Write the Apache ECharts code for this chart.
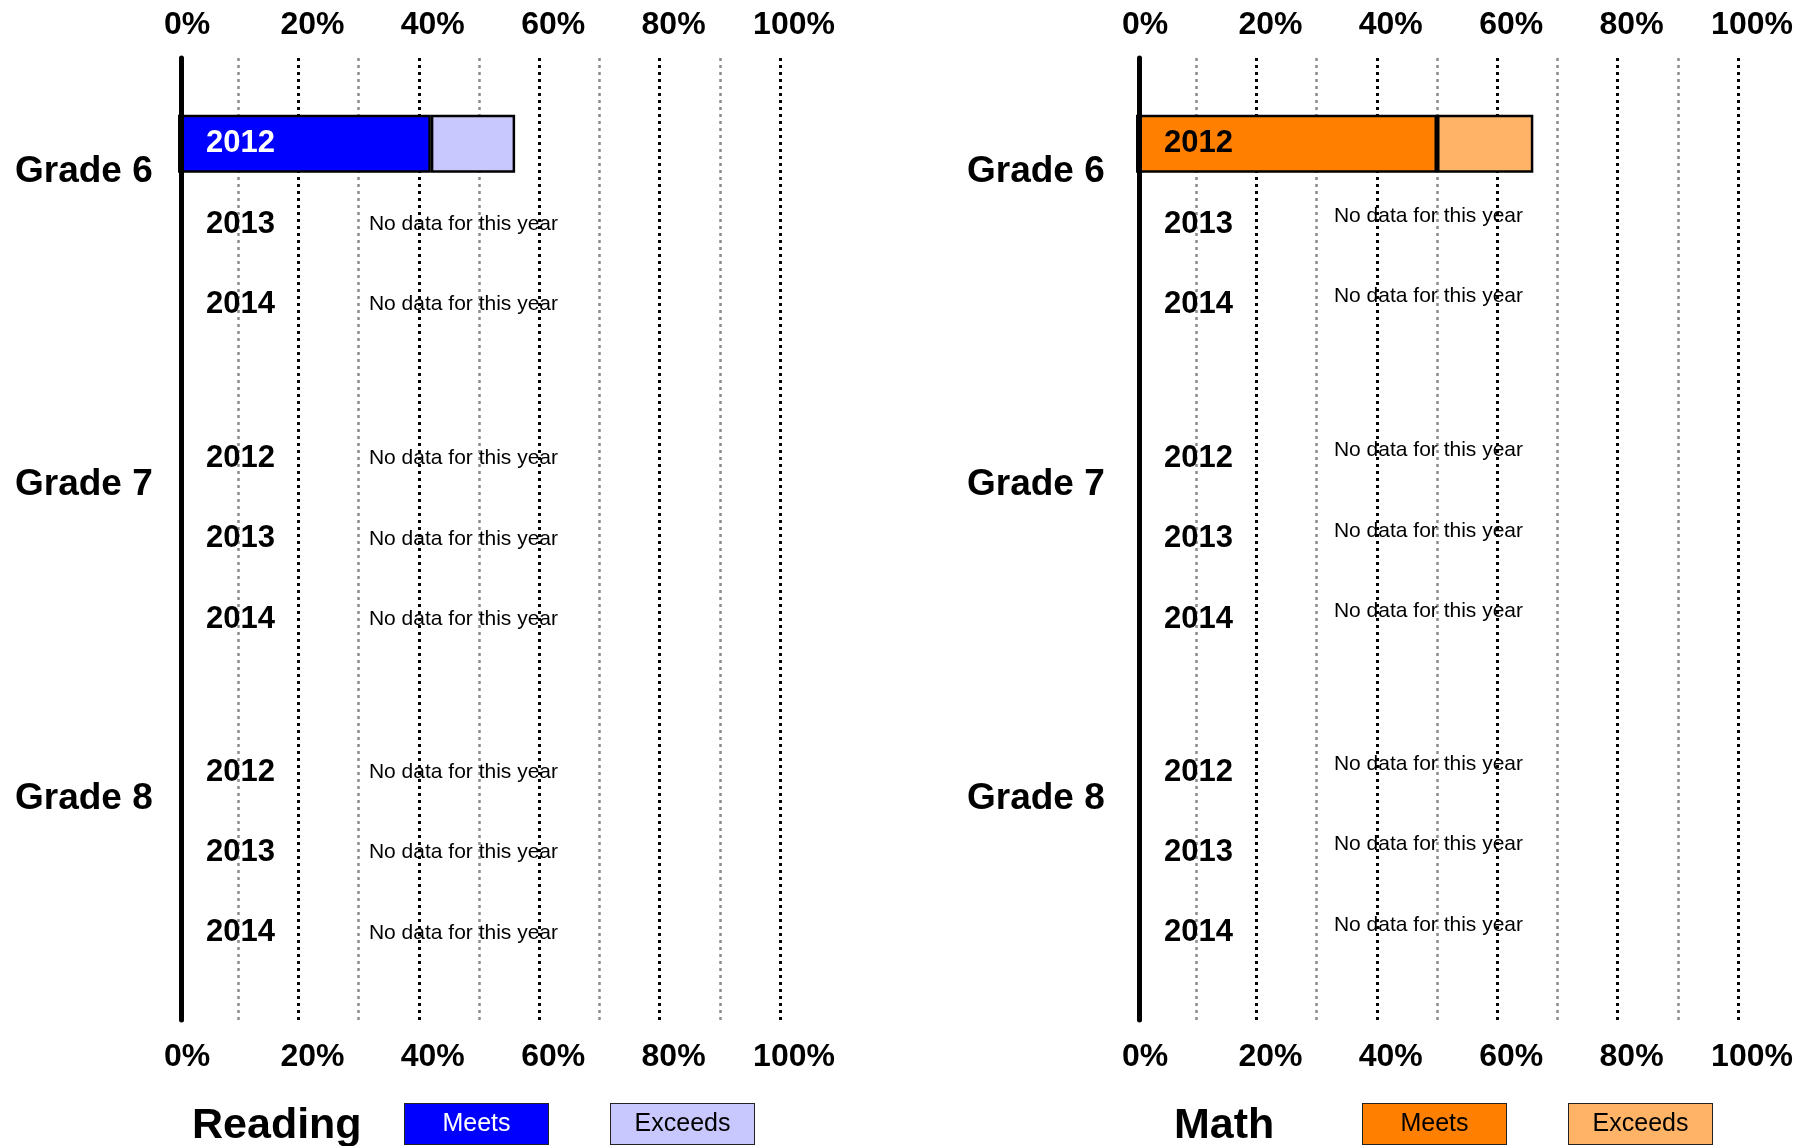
<!DOCTYPE html>
<html><head><meta charset="utf-8">
<script src="https://cdn.jsdelivr.net/npm/echarts@6/dist/echarts.min.js"></script>
<style>html,body{margin:0;padding:0;background:#fff}#c{width:1814px;height:1146px}</style>
</head><body><div id="c"></div>
<script>
// ---- data ----
const grades = ['Grade 6', 'Grade 7', 'Grade 8'];
const years = ['2012', '2013', '2014'];
const tickLabels = ['0%', '20%', '40%', '60%', '80%', '100%'];
const noDataText = 'No data for this year';
// values per grade-year: Grade 6 (2012, 2013, 2014), Grade 7 (...), Grade 8 (...)
const readingMeets   = [42, null, null, null, null, null, null, null, null];
const readingExceeds = [14, null, null, null, null, null, null, null, null];
const mathMeets      = [50, null, null, null, null, null, null, null, null];
const mathExceeds    = [16, null, null, null, null, null, null, null, null];

// ---- layout ----
const FONT = '"Liberation Sans", Arial, Helvetica, sans-serif';
const W = 602, FRAME_TOP = 58, FRAME_BOTTOM = 1020, SLOT = 80.4;
const gradeTops = [103.6, 418.2, 731.8];
const gradeLabelTops = [153, 466, 780];
const panels = [
  {subject: 'Reading', meets: readingMeets, exceeds: readingExceeds, x0: 178, axisOffset: -3,
   meetsColor: '#0000FF', exceedsColor: '#C8C8FF', meetsTextColor: '#FFFFFF', barLabelColor: '#FFFFFF',
   titleLeft: 192, gradeLeft: 15, legendLeft: 400, noDataMargin: 222, noDataUp: false},
  {subject: 'Math', meets: mathMeets, exceeds: mathExceeds, x0: 1136, axisOffset: -3,
   meetsColor: '#FF8000', exceedsColor: '#FFB366', meetsTextColor: '#000000', barLabelColor: '#000000',
   titleLeft: 1174, gradeLeft: 967, legendLeft: 1358, noDataMargin: 215, noDataUp: true}
];

const option = {
  animation: false, backgroundColor: '#fff', textStyle: {fontFamily: FONT},
  grid: [], xAxis: [], yAxis: [], series: [], title: [], legend: []
};

const tickRich = {
  z: {fontSize: 32, fontWeight: 'bold', color: '#000', fontFamily: FONT, padding: [0, 0, 0, 18]},
  a: {fontSize: 32, fontWeight: 'bold', color: '#000', fontFamily: FONT, padding: [0, 0, 0, 28]}
};
const tickFmt = v => (v % 20 !== 0 ? '' : (v === 0 ? '{z|' : '{a|') + tickLabels[v / 20] + '}');

panels.forEach(p => {
  const fIdx = option.grid.length;
  option.grid.push({left: p.x0, top: FRAME_TOP, width: W, height: FRAME_BOTTOM - FRAME_TOP, containLabel: false, outerBoundsMode: 'none'});
  // minor gray gridlines + bottom labels
  option.xAxis.push({gridIndex: fIdx, type: 'value', position: 'bottom', min: 0, max: 100, interval: 10, z: 0,
    axisLine: {show: false}, axisTick: {show: false},
    splitLine: {show: true, showMinLine: false, lineStyle: {color: '#8c8c8c', width: 2.5, type: [3, 4]}},
    axisLabel: {margin: 21, fontSize: 32, fontWeight: 'bold', color: '#000', fontFamily: FONT,
      formatter: tickFmt, rich: tickRich}});
  // major black gridlines + top labels
  option.xAxis.push({gridIndex: fIdx, type: 'value', position: 'top', min: 0, max: 100, interval: 20, z: 1,
    axisLine: {show: false}, axisTick: {show: false},
    splitLine: {show: true, showMinLine: false, lineStyle: {color: '#000', width: 3, type: [3, 4]}},
    axisLabel: {margin: 17, fontSize: 32, fontWeight: 'bold', color: '#000', fontFamily: FONT,
      formatter: tickFmt, rich: tickRich}});
  // thick vertical axis line
  option.yAxis.push({gridIndex: fIdx, type: 'value', min: 0, max: 1, offset: p.axisOffset, z: 6,
    axisLine: {show: true, lineStyle: {color: '#000', width: 5}}, axisTick: {show: false},
    axisLabel: {show: false}, splitLine: {show: false}});

  grades.forEach((g, gi) => {
    const gIdx = option.grid.length;
    option.grid.push({left: p.x0, top: gradeTops[gi], width: W, height: SLOT * 3, containLabel: false, outerBoundsMode: 'none'});
    const xi = option.xAxis.length;
    option.xAxis.push({gridIndex: gIdx, type: 'value', min: 0, max: 100, show: false});
    const m = p.meets.slice(gi * 3, gi * 3 + 3);
    const e = p.exceeds.slice(gi * 3, gi * 3 + 3);
    const yi = option.yAxis.length;
    option.yAxis.push({gridIndex: gIdx, type: 'category', data: years, inverse: true, position: 'left', z: 5,
      axisLine: {show: false}, axisTick: {show: false}, splitLine: {show: false},
      axisLabel: {inside: true, interval: 0, margin: 28, fontSize: 31, fontWeight: 'bold', fontFamily: FONT,
        color: (v, i) => (m[i] != null ? p.barLabelColor : '#000')}});
    const noDataLabel = {inside: true, interval: 0, margin: p.noDataMargin, fontSize: 21, color: '#000', fontFamily: FONT,
      formatter: (v, i) => (m[i] == null ? noDataText : '')};
    if (p.noDataUp) { noDataLabel.verticalAlign = 'bottom'; noDataLabel.lineHeight = 16; }
    option.yAxis.push({gridIndex: gIdx, type: 'category', data: years, inverse: true, position: 'right', z: 5,
      axisLine: {show: false}, axisTick: {show: false}, splitLine: {show: false}, axisLabel: noDataLabel});
    option.series.push({type: 'bar', name: p.subject + ' Meets', xAxisIndex: xi, yAxisIndex: yi, stack: 's' + gIdx,
      data: m, barWidth: 58, z: 2, itemStyle: {color: p.meetsColor, borderColor: '#000', borderWidth: 2.5}});
    option.series.push({type: 'bar', name: p.subject + ' Exceeds', xAxisIndex: xi, yAxisIndex: yi, stack: 's' + gIdx,
      data: e, barWidth: 58, z: 2, itemStyle: {color: p.exceedsColor, borderColor: '#000', borderWidth: 2.5}});
    option.title.push({text: g, left: p.gradeLeft, top: gradeLabelTops[gi], padding: 0,
      textStyle: {fontSize: 37, fontWeight: 'bold', color: '#000', fontFamily: FONT}});
  });

  option.title.push({text: p.subject, left: p.titleLeft, top: 1105, padding: 0,
    textStyle: {fontSize: 43, fontWeight: 'bold', color: '#000', fontFamily: FONT}});

  const box = (bg, fg) => ({width: 143, height: 40, lineHeight: 40, align: 'center', backgroundColor: bg,
    borderColor: '#222', borderWidth: 1, color: fg, fontSize: 25, fontFamily: FONT});
  option.legend.push({left: p.legendLeft, top: 1103, padding: 0, itemWidth: 0, itemHeight: 40, itemGap: 57,
    icon: 'none', itemStyle: {opacity: 0, borderWidth: 0}, lineStyle: {opacity: 0},
    orient: 'horizontal', selectedMode: false,
    data: [p.subject + ' Meets', p.subject + ' Exceeds'],
    formatter: n => (n.endsWith('Meets') ? '{m|Meets}' : '{e|Exceeds}'),
    textStyle: {rich: {m: box(p.meetsColor, p.meetsTextColor), e: box(p.exceedsColor, '#000')}}});
});

const chart = echarts.init(document.getElementById('c'), null, {renderer: 'canvas'});
chart.setOption(option);
</script>
</body></html>
